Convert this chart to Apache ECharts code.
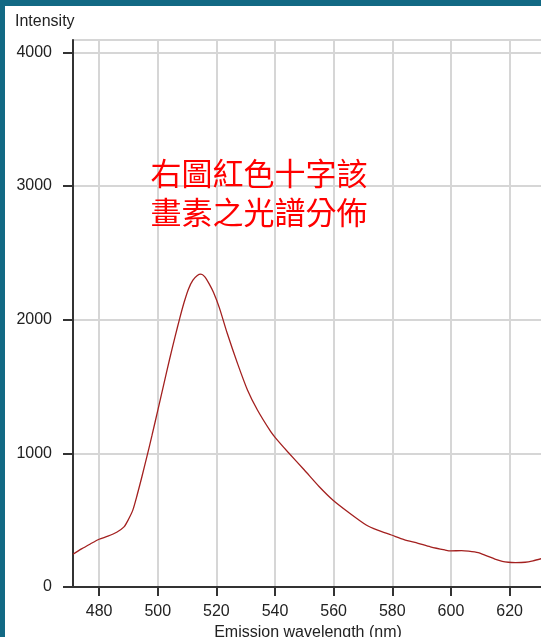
<!DOCTYPE html>
<html>
<head>
<meta charset="utf-8">
<script src="https://cdn.jsdelivr.net/npm/echarts@6/dist/echarts.min.js"></script>
<style>
  html, body { margin: 0; padding: 0; background: #ffffff; }
  #chart { width: 541px; height: 637px; }
</style>
</head>
<body>
<div id="chart"></div>
<script>
// Emission spectrum of the selected pixel
const wavelength = [471.1, 474, 477, 480, 483, 486, 488.5, 490, 491.5, 493, 494.6, 496.3, 498, 500, 502, 504, 506, 507.5, 509, 510.5, 512, 513.5, 514.7, 516, 517.5, 519, 521, 523.7, 527.2, 530.6, 534, 538.6, 540.3, 544.3, 550, 555.1, 559.7, 564.8, 571.1, 575, 579.7, 584, 588.8, 593, 597.9, 600, 603.6, 606, 609.3, 612, 615, 617.5, 619.6, 622, 625.3, 628, 631.4];
const intensity  = [245, 285, 322, 357, 380, 410, 450, 505, 575, 690, 825, 975, 1130, 1320, 1510, 1700, 1880, 2010, 2130, 2230, 2295, 2330, 2340, 2322, 2270, 2205, 2090, 1898, 1673, 1474, 1324, 1160, 1112, 1012, 875, 750, 651, 563, 464, 425, 389, 355, 327, 300, 277, 270, 272, 268, 257, 235, 209, 192, 185, 183, 185, 196, 215];

const xTicks = [480, 500, 520, 540, 560, 580, 600, 620];
const yTicks = [0, 1000, 2000, 3000, 4000];

const yTitle = 'Intensity';
const xTitle = 'Emission wavelength (nm)';
const noteLines = ['右圖紅色十字該', '畫素之光譜分佈'];

const font = '"Liberation Sans", Arial, sans-serif';
const cjkFont = '"Noto Sans CJK TC", "Noto Sans CJK SC", sans-serif';
const gridColor = '#d6d6d6';
const axisColor = '#333333';
const frameColor = '#126984';

const chart = echarts.init(document.getElementById('chart'), null, { renderer: 'canvas' });

chart.setOption({
  animation: false,
  backgroundColor: '#ffffff',
  grid: {
    left: 73, top: 40, right: -2, bottom: 50,
    containLabel: false,
    outerBoundsMode: 'none',
    show: true, borderColor: gridColor, borderWidth: 2, backgroundColor: 'transparent'
  },
  xAxis: {
    type: 'value',
    min: 471.1,
    max: 631.4,
    name: xTitle,
    nameLocation: 'middle',
    nameGap: 33,
    nameTextStyle: { color: '#222', fontFamily: font, fontSize: 16 },
    axisLine: { show: true, lineStyle: { color: axisColor, width: 2 } },
    axisTick: { show: true, inside: false, length: 9, customValues: xTicks, lineStyle: { color: axisColor, width: 2 } },
    axisLabel: { customValues: xTicks, margin: 17, color: '#222', fontFamily: font, fontSize: 16 },
    splitLine: { show: true, lineStyle: { color: gridColor, width: 2 } }
  },
  yAxis: {
    type: 'value',
    min: 0,
    max: 4092,
    axisLine: { show: true, lineStyle: { color: axisColor, width: 2 } },
    axisTick: { show: true, inside: false, length: 10, customValues: yTicks, lineStyle: { color: axisColor, width: 2 } },
    axisLabel: {
      customValues: yTicks, margin: 21, color: '#222', fontFamily: font, fontSize: 16,
      formatter: (v) => String(v)
    },
    splitLine: { show: true, lineStyle: { color: gridColor, width: 2 } }
  },
  series: [{
    type: 'line',
    data: wavelength.map((w, i) => [w, intensity[i]]),
    showSymbol: false,
    smooth: 0.25,
    clip: true,
    lineStyle: { color: '#a3201f', width: 1.3 },
    z: 5
  }],
  graphic: [
    { type: 'rect', left: 0, top: 0, shape: { width: 541, height: 6 }, style: { fill: frameColor }, z: 100 },
    { type: 'rect', left: 0, top: 0, shape: { width: 5, height: 637 }, style: { fill: frameColor }, z: 100 },
    {
      type: 'text', left: 15, top: 14, z: 50,
      style: { text: yTitle, fill: '#222', font: '16px ' + font }
    },
    {
      type: 'text', x: 259, y: 173, z: 50,
      style: { text: noteLines[0], fill: '#ff0000', font: '31px ' + cjkFont, align: 'center', verticalAlign: 'middle' }
    },
    {
      type: 'text', x: 259, y: 212, z: 50,
      style: { text: noteLines[1], fill: '#ff0000', font: '31px ' + cjkFont, align: 'center', verticalAlign: 'middle' }
    }
  ]
});
</script>
</body>
</html>
